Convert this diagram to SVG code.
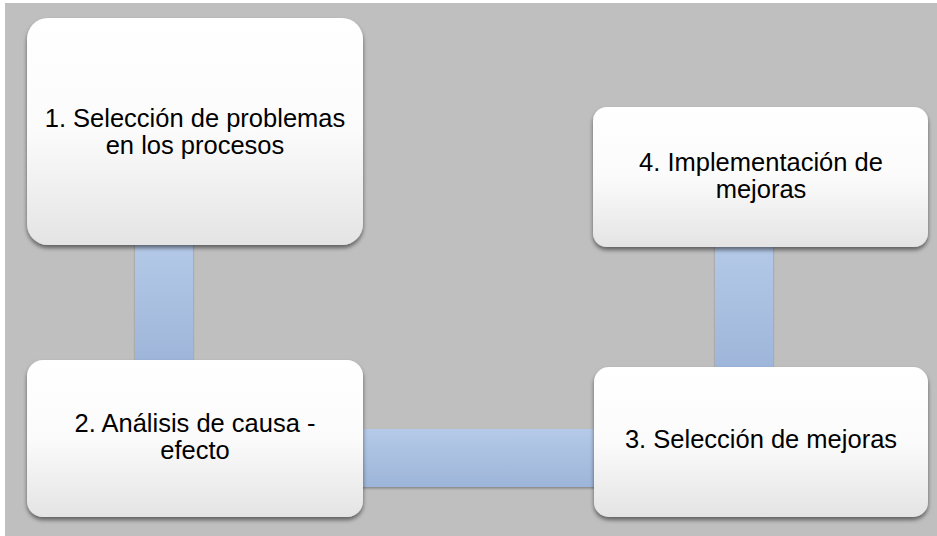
<svg xmlns="http://www.w3.org/2000/svg" width="937" height="536" viewBox="0 0 937 536">
<style>
.box{fill:url(#boxg);filter:url(#sh);}
.bar{filter:url(#bsh);}
.t{font-family:"Liberation Sans",Arial,sans-serif;font-size:25.5px;fill:#000;text-anchor:middle;}
</style>
<defs>
<linearGradient id="boxg" x1="0" y1="0" x2="0" y2="1">
<stop offset="0" stop-color="#ffffff"/>
<stop offset="0.5" stop-color="#fbfbfb"/>
<stop offset="1" stop-color="#e4e4e4"/>
</linearGradient>
<linearGradient id="vbar" x1="0" y1="0" x2="0" y2="1">
<stop offset="0" stop-color="#b5cae8"/>
<stop offset="1" stop-color="#9db5d9"/>
</linearGradient>
<linearGradient id="hbar" x1="0" y1="0" x2="0" y2="1">
<stop offset="0" stop-color="#b5cae8"/>
<stop offset="1" stop-color="#9db5d9"/>
</linearGradient>
<filter id="sh" x="-10%" y="-10%" width="120%" height="130%">
<feDropShadow dx="0" dy="3" stdDeviation="2.2" flood-color="#000" flood-opacity="0.5"/>
</filter>
<filter id="bsh" x="-10%" y="-10%" width="120%" height="130%">
<feDropShadow dx="0" dy="1.5" stdDeviation="1.2" flood-color="#000" flood-opacity="0.3"/>
</filter>
</defs>
<rect x="0" y="0" width="937" height="536" fill="#ffffff"/>
<rect x="5" y="3" width="932" height="533" fill="#bfbfbf"/>
<g id="connectors">
<rect class="bar" x="135" y="240" width="58" height="125" fill="url(#vbar)"/>
<rect class="bar" x="358" y="429" width="240" height="58" fill="url(#hbar)"/>
<rect class="bar" x="715" y="242" width="58" height="130" fill="url(#vbar)"/>
</g>
<g id="node1">
<rect class="box" x="27" y="18" width="336" height="227" rx="21" ry="21"/>
<text class="t" x="195" y="127">1. Selección de problemas</text>
<text class="t" x="195" y="154">en los procesos</text>
</g>
<g id="node2">
<rect class="box" x="27" y="360" width="336" height="157" rx="16" ry="16"/>
<text class="t" x="195" y="432">2. Análisis de causa -</text>
<text class="t" x="195" y="459">efecto</text>
</g>
<g id="node3">
<rect class="box" x="594" y="367" width="334" height="150" rx="15" ry="15"/>
<text class="t" x="761" y="448">3. Selección de mejoras</text>
</g>
<g id="node4">
<rect class="box" x="593" y="107" width="335" height="140" rx="14" ry="14"/>
<text class="t" x="761" y="171">4. Implementación de</text>
<text class="t" x="761" y="198">mejoras</text>
</g>
</svg>
